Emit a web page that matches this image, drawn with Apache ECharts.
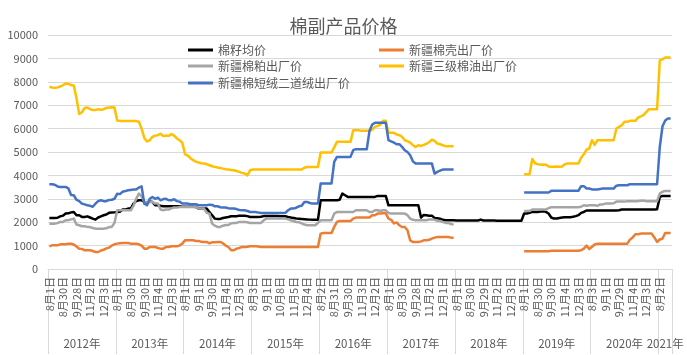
<!DOCTYPE html>
<html><head><meta charset="utf-8">
<script src="https://cdn.jsdelivr.net/npm/echarts@6/dist/echarts.min.js"></script>
<style>html,body{margin:0;padding:0;background:#fff}#c{width:687px;height:355px}</style>
</head><body><div id="c"></div><script>
const years = ['2012年','2013年','2014年','2015年','2016年','2017年','2018年','2019年','2020年','2021年'];
const dateLabels = [
  ['8月1日','8月30日','9月28日','11月2日','12月3日'],
  ['8月1日','8月30日','9月30日','11月4日','12月3日'],
  ['8月1日','9月1日','9月30日','11月4日','12月3日'],
  ['8月3日','9月1日','10月8日','11月5日','12月4日'],
  ['8月2日','8月31日','9月30日','11月3日','12月2日'],
  ['8月1日','8月30日','9月28日','11月2日','12月1日'],
  ['8月1日','8月30日','9月29日','11月2日','12月3日'],
  ['8月1日','8月30日','9月30日','11月4日','12月3日'],
  ['8月3日','9月1日','9月29日','11月4日','12月3日'],
  ['8月2日']
];
const seriesNames = ['棉籽均价','新疆棉壳出厂价','新疆棉粕出厂价','新疆三级棉油出厂价','新疆棉短绒二道绒出厂价'];

const cottonseed = [
  2182,2182,2182,2190,2250,2280,2367,2380,2420,2438,2300,2296,2225,2225,2250,2200,2150,2110,2200,2250,2296,2330,2400,2410,2420,
  2438,2450,2538,2538,2581,2581,2795,2900,2938,2938,2866,2823,2880,2866,2723,2723,2700,2680,2680,2680,2680,2680,2680,2680,2660,
  2660,2660,2660,2660,2650,2581,2581,2581,2581,2438,2300,2153,2140,2140,2180,2200,2220,2253,2253,2253,2280,2280,2280,2260,2225,
  2225,2225,2225,2230,2260,2260,2260,2260,2260,2260,2253,2253,2253,2225,2200,2180,2160,2150,2140,2130,2120,2110,2100,2100,2100,
  2938,2938,2938,2938,2938,2938,2938,2960,3222,3150,3080,3080,3080,3080,3080,3080,3080,3080,3080,3080,3080,3123,3123,3123,3123,
  2723,2723,2723,2723,2723,2723,2723,2723,2723,2723,2723,2723,2200,2310,2300,2280,2280,2180,2170,2150,2100,2082,2082,2082,2082,
  2075,2075,2075,2075,2075,2075,2075,2075,2075,2110,2075,2070,2070,2070,2070,2065,2065,2065,2060,2060,2060,2060,2060,2060,2060,
  2370,2370,2400,2440,2440,2440,2460,2470,2440,2370,2200,2156,2156,2180,2200,2213,2213,2213,2230,2260,2300,2400,2438,2500,2500,
  2500,2500,2500,2500,2500,2500,2500,2500,2500,2505,2510,2540,2540,2540,2540,2540,2540,2540,2540,2540,2540,2540,2540,2540,2553,
  3080,3123,3123,3123,3123
];
const hullPrice = [
  970,1012,1012,1012,1055,1055,1055,1084,1084,1050,960,870,860,799,799,799,770,727,727,790,820,880,913,1000,1055,
  1084,1100,1112,1112,1112,1084,1084,1084,1055,1000,870,870,941,941,941,900,870,870,941,941,970,970,970,1000,1084,
  1226,1226,1226,1226,1200,1200,1160,1155,1155,1100,1140,1140,1155,1155,1100,1000,940,799,799,870,900,941,941,950,970,
  970,970,960,941,941,941,941,941,941,941,941,941,941,941,941,941,941,941,941,941,941,941,941,941,941,
  1512,1540,1540,1540,1540,1800,2011,2053,2053,2053,2053,2053,2153,2196,2196,2196,2196,2196,2200,2296,2296,2367,2367,2380,2380,
  2153,2100,1950,1990,1868,1797,1797,1654,1226,1155,1155,1155,1180,1226,1226,1250,1298,1340,1369,1369,1369,1369,1369,1340,1340,
  null,null,null,null,null,null,null,null,null,null,null,null,null,null,null,null,null,null,null,null,null,null,null,null,null,
  757,757,757,757,757,757,757,757,757,757,780,780,780,780,780,780,780,780,780,780,780,800,870,1000,850,
  950,1050,1084,1084,1084,1084,1084,1084,1084,1084,1084,1084,1084,1084,1255,1350,1483,1483,1512,1512,1512,1512,1512,1350,1155,
  1260,1300,1540,1540,1540
];
const mealPrice = [
  1939,1939,1939,1960,2011,2011,2082,2082,2120,2153,1900,1868,1825,1825,1800,1790,1750,1725,1725,1725,1725,1740,1790,1800,1968,
  2510,2510,2510,2510,2510,2510,2700,3000,3222,3100,2866,2866,2866,2866,2795,2795,2540,2510,2540,2540,2600,2624,2624,2652,2652,
  2652,2652,2652,2652,2652,2581,2581,2581,2400,2367,1939,1850,1797,1797,1850,1880,1880,1950,1968,1968,2011,2011,2011,2000,1968,
  1968,1968,1968,1968,2082,2153,2153,2153,2153,2153,2153,2153,2153,2120,2082,2050,2011,2000,1950,1900,1868,1868,1868,1868,1968,
  2082,2082,2082,2082,2082,2367,2438,2438,2438,2438,2438,2438,2438,2510,2510,2510,2510,2510,2438,2438,2510,2510,2480,2510,2510,
  2395,2367,2367,2367,2367,2367,2367,2300,2153,2100,2082,2082,2082,2082,2082,2120,2120,2100,2060,2050,2011,1968,1968,1920,1897,
  null,null,null,null,null,null,null,null,null,null,null,null,null,null,null,null,null,null,null,null,null,null,null,null,null,
  2482,2482,2482,2540,2540,2540,2540,2540,2540,2600,2640,2640,2640,2640,2640,2640,2640,2640,2640,2640,2640,2660,2725,2700,2725,
  2725,2725,2700,2760,2760,2795,2795,2795,2810,2880,2880,2880,2880,2900,2900,2900,2900,2900,2920,2920,2900,2900,2900,2900,2900,
  3222,3300,3337,3337,3337
];
const oilPrice = [
  7790,7760,7740,7760,7800,7850,7930,7920,7860,7840,7300,6620,6700,6880,6900,6830,6790,6800,6830,6810,6830,6880,6900,6910,6900,
  6350,6330,6330,6330,6330,6330,6330,6320,6290,6000,5600,5450,5500,5650,5700,5720,5780,5680,5700,5690,5770,5700,5580,5500,5400,
  4906,4850,4735,4650,4590,4550,4520,4506,4480,4435,4390,4363,4335,4320,4290,4265,4250,4235,4220,4190,4150,4107,4080,4000,4220,
  4250,4250,4250,4250,4250,4250,4250,4250,4250,4250,4250,4250,4250,4250,4250,4250,4250,4250,4250,4330,4360,4360,4360,4360,4360,
  4977,4977,4977,4977,4977,5200,5433,5433,5433,5433,5433,5433,5930,5930,5930,5904,5904,5904,5904,5950,6075,6120,6175,6331,6331,
  5818,5818,5818,5750,5718,5650,5500,5462,5400,5290,5219,5290,5260,5300,5360,5420,5533,5480,5360,5330,5290,5248,5248,5248,5248,
  null,null,null,null,null,null,null,null,null,null,null,null,null,null,null,null,null,null,null,null,null,null,null,null,null,
  4050,4050,4050,4700,4520,4480,4460,4470,4460,4380,4370,4370,4380,4370,4380,4480,4506,4506,4506,4506,4506,4750,4900,5100,5150,
  5504,5300,5504,5504,5504,5504,5504,5504,5504,6003,6075,6146,6289,6289,6331,6331,6331,6474,6520,6574,6700,6831,6831,6831,6831,
  8927,8960,9041,9041,9041
];
const linterPrice = [
  3622,3622,3600,3530,3508,3508,3508,3450,3160,3151,2960,2900,2795,2760,2723,2700,2660,2790,2900,2937,2900,2900,2950,2960,3000,
  3220,3200,3300,3330,3365,3380,3395,3395,3480,3530,2790,2723,3000,3080,3000,3050,2937,2990,3000,2937,2937,2980,2900,2880,2800,
  2795,2795,2766,2766,2766,2723,2723,2723,2723,2750,2740,2680,2680,2640,2624,2624,2600,2581,2581,2560,2520,2510,2510,2480,2438,
  2438,2438,2410,2395,2395,2395,2395,2395,2395,2395,2395,2395,2400,2510,2581,2581,2620,2680,2700,2866,2866,2820,2795,2795,2795,
  3650,3650,3650,3650,3650,4577,4791,4791,4791,4791,4791,4791,5077,5120,5120,5120,5120,5120,5900,6175,6246,6246,6246,6246,6246,
  5504,5450,5400,5333,5333,5219,5077,5000,4863,4600,4506,4506,4506,4506,4506,4506,4506,4078,4150,4200,4249,4249,4249,4249,4249,
  null,null,null,null,null,null,null,null,null,null,null,null,null,null,null,null,null,null,null,null,null,null,null,null,null,
  3269,3269,3269,3269,3269,3269,3269,3269,3269,3269,3340,3340,3340,3340,3340,3340,3340,3340,3340,3340,3340,3540,3540,3440,3440,
  3400,3400,3400,3420,3437,3437,3437,3437,3437,3560,3579,3579,3579,3579,3622,3622,3622,3622,3622,3622,3622,3622,3622,3622,3622,
  5220,6100,6350,6431,6431
];
const seriesColors = ['#000000','#ED7D31','#A5A5A5','#FFC000','#4472C4'];

// build categories: each shown date label covers 5 category slots
const categories = [];
const yearStart = new Set();
const yearMid = new Set();
years.forEach((y, yi) => {
  const start = categories.length;
  dateLabels[yi].forEach(lab => {
    for (let k = 0; k < 5; k++) categories.push(y + '|' + lab + '|' + k);
  });
  yearStart.add(start);
  yearMid.add(start + Math.floor((categories.length - start) / 2));
});

const FONT = "'Noto Sans CJK SC', 'Noto Sans', sans-serif";
const TXT = '#595959';
const GRID = '#d9d9d9';
const values = [cottonseed, hullPrice, mealPrice, oilPrice, linterPrice];

const legendPos = [
  {left: 188, top: 44}, {left: 379, top: 44},
  {left: 188, top: 60}, {left: 379, top: 60},
  {left: 188, top: 77}
];

const chart = echarts.init(document.getElementById('c'), null, {renderer: 'canvas'});
chart.setOption({
  animation: false,
  backgroundColor: '#fff',
  title: {
    text: '棉副产品价格', left: 'center', top: 12,
    textStyle: {fontFamily: FONT, fontSize: 18, fontWeight: 'normal', color: TXT}
  },
  legend: seriesNames.map((n, i) => ({
    data: [n], left: legendPos[i].left, top: legendPos[i].top, padding: 0,
    icon: 'rect', itemWidth: 25, itemHeight: 3,
    textStyle: {fontFamily: FONT, fontSize: 12, color: TXT}
  })),
  grid: {left: 48, right: 15, top: 35, bottom: 86},
  xAxis: [
    {
      type: 'category', data: categories, boundaryGap: true,
      axisLine: {show: true, lineStyle: {color: GRID, width: 1}},
      axisTick: {show: false},
      axisLabel: {
        interval: 4, rotate: 90, margin: 8,
        fontFamily: FONT, fontSize: 11, color: TXT,
        formatter: v => v.split('|')[1]
      },
      splitLine: {show: false}
    },
    {
      type: 'category', data: categories, boundaryGap: true, position: 'bottom', offset: 0,
      axisLine: {show: false},
      axisTick: {show: true, length: 85, interval: (i) => yearStart.has(i), lineStyle: {color: GRID, width: 1}},
      axisLabel: {
        interval: (i) => yearMid.has(i), margin: 69,
        fontFamily: FONT, fontSize: 11.5, color: TXT,
        formatter: v => v.split('|')[0]
      },
      splitLine: {show: false}
    }
  ],
  yAxis: {
    type: 'value', min: 0, max: 10000, interval: 1000,
    axisLine: {show: false}, axisTick: {show: false},
    axisLabel: {fontFamily: FONT, fontSize: 11, color: TXT, margin: 10, formatter: v => String(v)},
    splitLine: {lineStyle: {color: GRID, width: 1}}
  },
  series: seriesNames.map((n, i) => ({
    name: n, type: 'line', xAxisIndex: 0, data: values[i],
    symbol: 'none', showSymbol: false, connectNulls: false,
    color: seriesColors[i],
    lineStyle: {color: seriesColors[i], width: 2.5, join: 'round'}
  }))
});
</script></body></html>
